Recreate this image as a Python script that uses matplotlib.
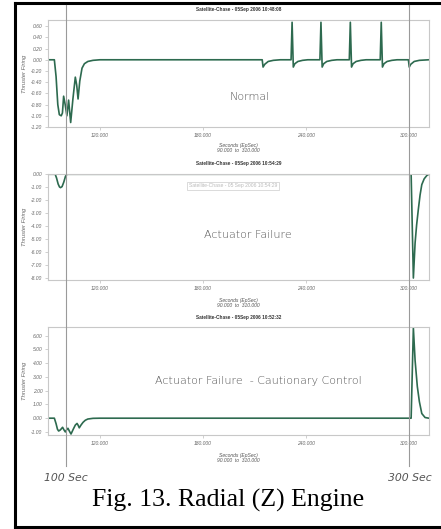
import numpy as np
import matplotlib
matplotlib.use('Agg')
import matplotlib.pyplot as plt
from matplotlib.lines import Line2D
from matplotlib.transforms import blended_transform_factory

plt.rcParams['axes.unicode_minus'] = False

# -------------------- DATA --------------------
# Normal
t_normal = [90, 93.5, 94.5, 95.5, 96.4, 97.5, 98.2, 98.9, 99.8, 100.8, 101.8, 103.0,
            104.3, 105.7, 106.5, 107.3, 108.3, 109.6, 111, 113, 116, 120,
            214.5, 215.0, 216, 218, 221, 225,
            231.3, 231.9, 232.6, 233.5, 235.3, 238, 241,
            248.1, 248.7, 249.4, 250.3, 252.1, 255, 258,
            265.2, 265.8, 266.5, 267.4, 269.2, 272, 275,
            283.2, 283.8, 284.5, 285.4, 287.2, 290, 293,
            299.6, 300.1, 301, 303, 306, 311.5]
v_normal = [0, 0, -0.3, -0.8, -0.98, -1.0, -0.95, -0.65, -0.8, -1.0, -0.72, -1.12,
            -0.7, -0.31, -0.45, -0.70, -0.38, -0.15, -0.07, -0.03, -0.01, 0,
            0, -0.13, -0.08, -0.03, -0.01, 0,
            0, 0.67, -0.13, -0.07, -0.03, -0.01, 0,
            0, 0.67, -0.13, -0.07, -0.03, -0.01, 0,
            0, 0.67, -0.13, -0.07, -0.03, -0.01, 0,
            0, 0.67, -0.13, -0.07, -0.03, -0.01, 0,
            0, -0.13, -0.08, -0.03, -0.01, 0]

# Actuator failure
t_fail = [90, 94, 94.8, 95.7, 96.5, 97.1, 98.0, 99.0, 100.0, 100.9,
          301.2, 302.5, 303.5, 304.4, 305.4, 306.4, 307.4, 308.8, 310.3, 311.5]
v_fail = [0, 0, -0.3, -0.75, -0.98, -1.03, -0.95, -0.6, -0.15, 0,
          0, -8.0, -5.3, -3.9, -2.7, -1.6, -0.8, -0.35, -0.1, 0]

# Actuator failure - cautionary control
t_caut = [90, 93.5, 94.5, 95.3, 96, 97, 98.3, 99.1, 99.9, 100.6, 101.4, 102.3,
          103.2, 104.5, 105.7, 106.7, 107.3, 108, 109, 110.2, 111.5, 113, 116, 120,
          301.2, 302.5, 303.5, 304.8, 306, 307.4, 309.3, 311.5]
v_caut = [0, 0, -0.4, -0.8, -0.93, -0.85, -0.66, -0.85, -1.0, -0.85, -0.73, -0.95,
          -1.15, -0.8, -0.5, -0.38, -0.5, -0.7, -0.5, -0.3, -0.15, -0.06, -0.01, 0,
          0, 6.55, 4.2, 2.3, 1.2, 0.34, 0.05, 0]

x_ticks = [120, 180, 240, 300]
yticks_normal = [0.6, 0.4, 0.2, 0.0, -0.2, -0.4, -0.6, -0.8, -1.0, -1.2]
yticks_fail = [0, -1, -2, -3, -4, -5, -6, -7, -8]
yticks_caut = [6, 5, 4, 3, 2, 1, 0, -1]

titles = ['Satellite-Chase - 05Sep 2006 10:48:08',
          'Satellite-Chase - 05Sep 2006 10:54:29',
          'Satellite-Chase - 05Sep 2006 10:52:32']
labels = ['Normal', 'Actuator Failure', 'Actuator Failure  - Cautionary Control']
marks = [100, 300]

# -------------------- FIGURE --------------------
W, H = 441, 529
fig = plt.figure(figsize=(W / 100, H / 100), dpi=100)
fig.patch.set_facecolor('white')

GREEN = '#2d6a4f'
GRAY = '#c8c8c8'


def px_box(left, top, right, bottom):
    return [left / W, 1 - bottom / H, (right - left) / W, (bottom - top) / H]


panels = [
    (px_box(48, 20, 429, 127), t_normal, v_normal, (-1.2, 0.71), yticks_normal),
    (px_box(48, 174, 429, 280), t_fail, v_fail, (-8.15, 0.02), yticks_fail),
    (px_box(48, 327, 429, 435), t_caut, v_caut, (-1.22, 6.62), yticks_caut),
]
title_y = [9, 163, 317]
xlabel_y = [148, 303, 458]
label_pos = [(250, 97), (248, 235), (258, 381)]

axes = []
for i, (box, t, v, ylim, yt) in enumerate(panels):
    ax = fig.add_axes(box)
    ax.plot(t, v, color=GREEN, lw=1.2, solid_joinstyle='round')
    ax.set_xlim(89.8, 311.6)
    ax.set_ylim(*ylim)
    ax.set_xticks(x_ticks)
    ax.set_xticklabels(['%.3f' % x for x in x_ticks])
    ax.set_yticks(yt)
    ax.set_yticklabels(['%.2f' % y for y in yt])
    for s in ax.spines.values():
        s.set_color(GRAY)
        s.set_linewidth(0.8)
    ax.tick_params(length=2.5, width=0.6, color=GRAY, labelsize=3.6,
                   labelcolor='#666666', pad=1.5)
    for lab in ax.get_xticklabels() + ax.get_yticklabels():
        lab.set_fontstyle('italic')
        lab.set_family('Liberation Sans')
    ax.set_ylabel('Thruster Firing', fontsize=4.2, style='italic', color='#666666',
                  family='Liberation Sans', labelpad=3)
    fig.text(0.5 * (48 + 429) / W, 1 - title_y[i] / H, titles[i], ha='center', va='center',
             fontsize=3.4, weight='bold', color='#333333', family='Liberation Sans')
    fig.text(0.5 * (48 + 429) / W, 1 - xlabel_y[i] / H, 'Seconds (EpSec)\n90.000  to  310.000',
             ha='center', va='center', fontsize=3.6, style='italic', color='#555555',
             family='Liberation Sans', linespacing=1.0)
    fig.text(label_pos[i][0] / W, 1 - label_pos[i][1] / H, labels[i], ha='center', va='center',
             fontsize=8, color='#555555', family='DejaVu Sans', weight='light')
    axes.append(ax)

# faint overlay label in the second panel
fig.text(233 / W, 1 - 186 / H, 'Satellite-Chase - 05 Sep 2006 10:54:29', ha='center', va='center',
         fontsize=3.6, color='#bbbbbb', family='Liberation Sans',
         bbox=dict(facecolor='white', edgecolor='#cccccc', linewidth=0.5, pad=1))

# vertical marker lines through all panels
trans = blended_transform_factory(axes[0].transData, fig.transFigure)
for m in marks:
    fig.add_artist(Line2D([m, m], [1 - 5 / H, 1 - 466 / H], transform=trans,
                          color='#9a9a9a', lw=0.8, zorder=5))

fig.text(66 / W, 1 - 478 / H, '100 Sec', ha='center', va='center', fontsize=7.8,
         style='italic', color='#555555', family='DejaVu Sans')
fig.text(410 / W, 1 - 478 / H, '300 Sec', ha='center', va='center', fontsize=7.8,
         style='italic', color='#555555', family='DejaVu Sans')

fig.text(228 / W, 1 - 500 / H, 'Fig. 13. Radial (Z) Engine', ha='center', va='center',
         fontsize=18.5, color='black', family='Liberation Serif')

# black frame (left, top, bottom)
for xs, ys in [([15 / W, 15 / W], [1 - 3 / H, 1 - 527 / H]),
               ([15 / W, 1.0], [1 - 3 / H, 1 - 3 / H]),
               ([15 / W, 1.0], [1 - 527 / H, 1 - 527 / H])]:
    fig.add_artist(Line2D(xs, ys, transform=fig.transFigure, color='black', lw=2.2))

fig.savefig('out.png', dpi=100)
